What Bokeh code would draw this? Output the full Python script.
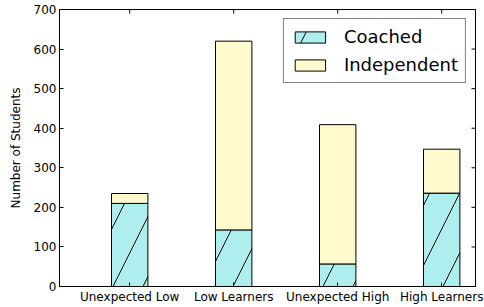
import math
from bokeh.plotting import figure
from bokeh.models import Range1d, FixedTicker
from bokeh.embed import file_html
from bokeh.resources import INLINE

categories = ["Unexpected Low", "Low Learners", "Unexpected High", "High Learners"]
coached = [210, 143, 57, 236]
independent = [25, 477, 352, 111]
y_ticks = [0, 100, 200, 300, 400, 500, 600, 700]

xs = list(range(len(categories)))
totals = [c + i for c, i in zip(coached, independent)]

FONT = "DejaVu Sans"
X0, X1, Y0, Y1 = -0.675, 3.325, 0, 700

p = figure(width=484, height=307, output_backend="svg", toolbar_location=None,
           x_range=Range1d(X0, X1), y_range=Range1d(Y0, Y1),
           min_border_left=59, min_border_right=9, min_border_top=9, min_border_bottom=21)
p.grid.visible = False
p.outline_line_color = "black"
p.outline_line_width = 1
p.background_fill_color = "white"
p.border_fill_color = "white"

p.vbar(x=xs, bottom=0, top=coached, width=0.35, fill_color="#AFEEEE",
       line_color="black", line_width=1, hatch_pattern="/", hatch_color="black",
       hatch_scale=60, hatch_weight=1, legend_label="Coached")
p.vbar(x=xs, bottom=coached, top=totals, width=0.35, fill_color="#FFFACD",
       line_color="black", line_width=1, legend_label="Independent")

# mirrored inward ticks on top and right edges (half of each dash is clipped by the frame)
p.scatter(x=xs, y=[Y1] * len(xs), marker="dash", size=8, angle=math.pi / 2,
          line_color="black", line_width=1)
p.scatter(x=[X1] * len(y_ticks), y=y_ticks, marker="dash", size=8,
          line_color="black", line_width=1)

xa = p.xaxis[0]
xa.ticker = FixedTicker(ticks=xs)
xa.major_label_overrides = {i: c for i, c in zip(xs, categories)}
xa.axis_label_standoff = 0
ya = p.yaxis[0]
ya.ticker = FixedTicker(ticks=y_ticks)
ya.axis_label = "Number of Students"

for ax in (xa, ya):
    ax.major_tick_in = 4
    ax.major_tick_out = 0
    ax.minor_tick_line_color = None
    ax.major_label_text_font = FONT
    ax.major_label_text_font_size = "12px"
    ax.major_label_text_color = "black"
    ax.major_label_standoff = 3
    ax.axis_line_color = "black"
    ax.major_tick_line_color = "black"
ya.axis_label_text_font = FONT
ya.axis_label_text_font_size = "12px"
ya.axis_label_text_font_style = "normal"
ya.axis_label_text_color = "black"
ya.axis_label_standoff = 8

lg = p.legend[0]
lg.location = "top_right"
lg.margin = 9
lg.padding = 7
lg.spacing = 7
lg.glyph_width = 38
lg.glyph_height = 14
lg.label_height = 20
lg.label_standoff = 15
lg.label_text_font = FONT
lg.label_text_font_size = "18px"
lg.label_text_color = "black"
lg.border_line_color = "black"
lg.border_line_width = 1
lg.background_fill_color = "white"
lg.background_fill_alpha = 1

open("out.html", "w").write(file_html(p, INLINE))
